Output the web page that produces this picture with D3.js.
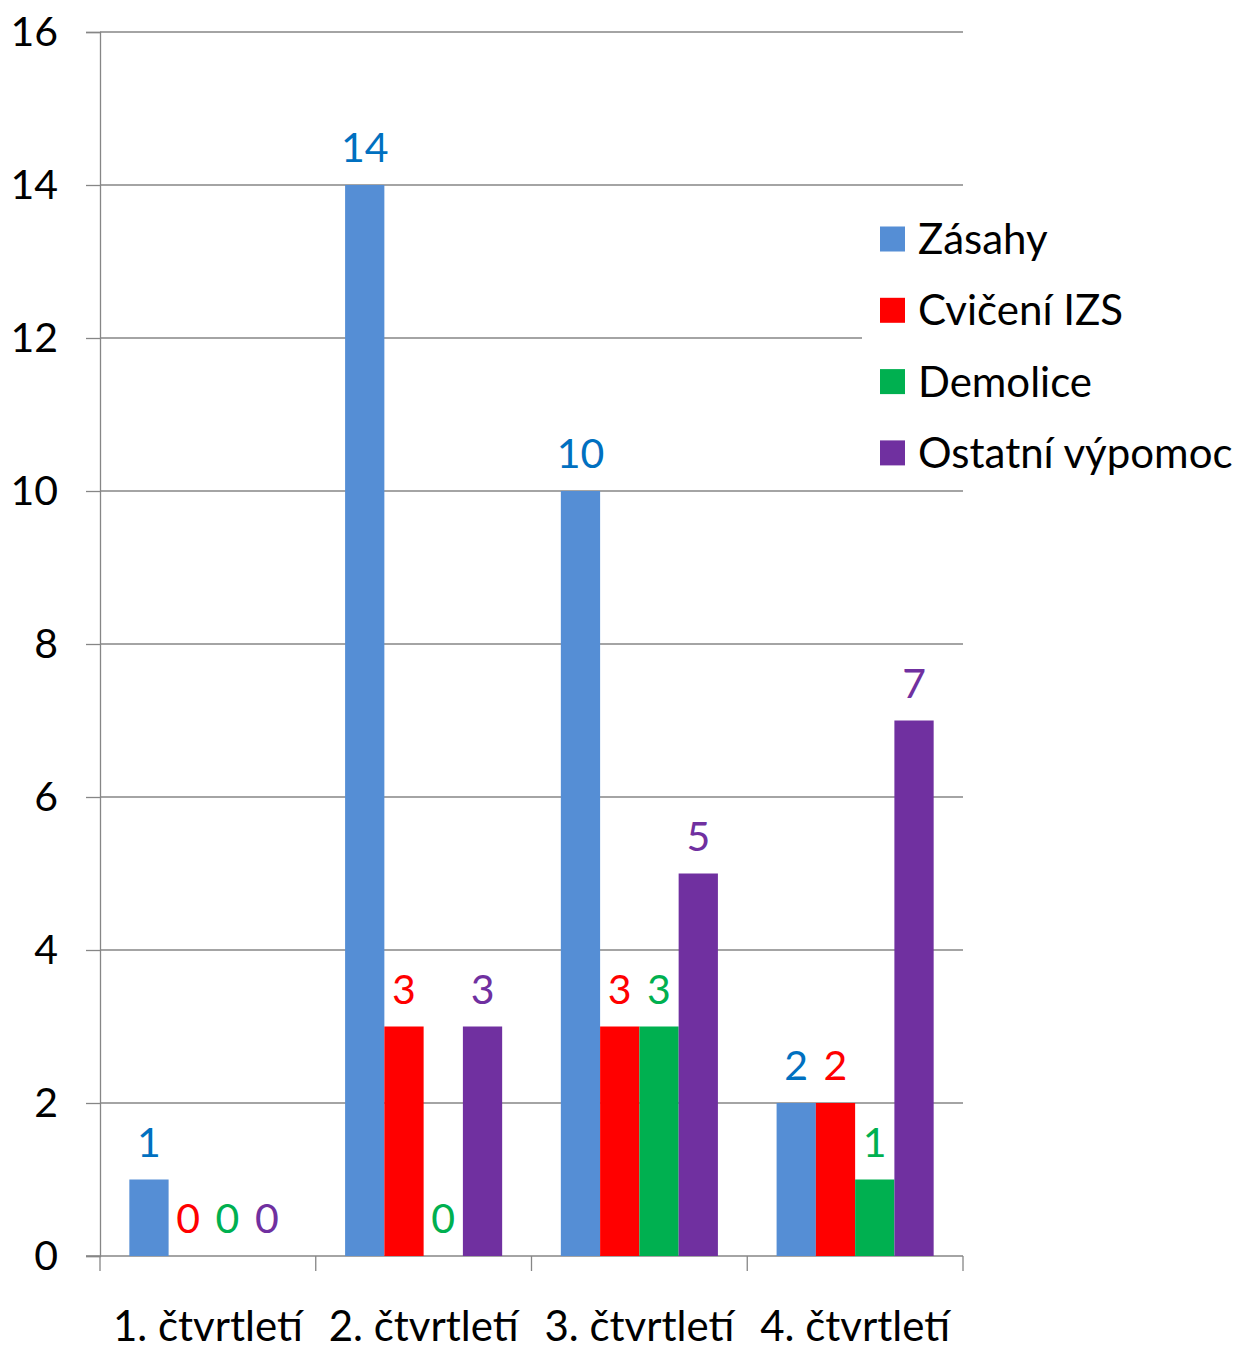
<!DOCTYPE html>
<html>
<head>
<meta charset="utf-8">
<script src="https://cdn.jsdelivr.net/npm/d3@7"></script>
<style>
body { margin: 0; background: #fff; }
svg text { font-family: Lato, "Open Sans", sans-serif; }
</style>
</head>
<body>
<svg id="chart"></svg>
<script>
// data
var quarters = ["1. čtvrtletí", "2. čtvrtletí", "3. čtvrtletí", "4. čtvrtletí"];
var seriesNames = ["Zásahy", "Cvičení IZS", "Demolice", "Ostatní výpomoc"];
var zasahy = [1, 14, 10, 2];
var cviceni = [0, 3, 3, 2];
var demolice = [0, 0, 3, 1];
var ostatni = [0, 3, 5, 7];
var yTicks = [0, 2, 4, 6, 8, 10, 12, 14, 16];

var barColors = ["#558ed5", "#ff0000", "#00b050", "#7030a0"];
var labelColors = ["#0070c0", "#ff0000", "#00b050", "#7030a0"];

var initChart = function(target)
{
    var screen = {width: 1241, height: 1349};
    var plot = {left: 100, right: 963, top: 32, bottom: 1256};

    var values = [zasahy, cviceni, demolice, ostatni];

    var svg = d3.select(target)
        .attr("width", screen.width)
        .attr("height", screen.height);

    var x0 = d3.scaleBand()
        .domain(quarters)
        .range([plot.left, plot.right]);

    var gap = x0.bandwidth() * 0.272;
    var x1 = d3.scaleBand()
        .domain(seriesNames)
        .range([gap / 2, x0.bandwidth() - gap / 2]);

    var y = d3.scaleLinear()
        .domain([0, 16])
        .range([plot.bottom, plot.top]);

    // gridlines
    svg.append("g")
        .selectAll("line")
        .data(yTicks.slice(1))
        .enter()
        .append("line")
        .attr("x1", plot.left)
        .attr("x2", plot.right)
        .attr("y1", function(d) { return y(d); })
        .attr("y2", function(d) { return y(d); })
        .attr("stroke", "#868686")
        .attr("stroke-width", 1.3);

    // y axis
    var yAxis = d3.axisLeft(y)
        .tickValues(yTicks)
        .tickSize(14)
        .tickPadding(28);
    var gy = svg.append("g")
        .attr("transform", "translate(" + plot.left + ",0)")
        .call(yAxis);
    gy.select(".domain").attr("stroke", "#868686").attr("stroke-width", 1.3);
    gy.selectAll(".tick line").attr("stroke", "#868686").attr("stroke-width", 1.3);
    gy.selectAll("text")
        .attr("font-size", 41)
        .attr("fill", "#000")
        .style("font-family", "Lato, sans-serif");

    // x axis (ticks at category boundaries)
    var gx = svg.append("g")
        .attr("transform", "translate(0," + plot.bottom + ")");
    gx.append("line")
        .attr("x1", plot.left - 14)
        .attr("x2", plot.right)
        .attr("stroke", "#868686")
        .attr("stroke-width", 1.3);
    var bounds = quarters.map(function(q) { return x0(q); }).concat([plot.right]);
    gx.selectAll(".bnd")
        .data(bounds)
        .enter()
        .append("line")
        .attr("class", "bnd")
        .attr("x1", function(d) { return d; })
        .attr("x2", function(d) { return d; })
        .attr("y1", 0)
        .attr("y2", 15)
        .attr("stroke", "#868686")
        .attr("stroke-width", 1.3);
    gx.selectAll(".cat")
        .data(quarters)
        .enter()
        .append("text")
        .attr("class", "cat")
        .attr("x", function(d) { return x0(d) + x0.bandwidth() / 2; })
        .attr("y", 85)
        .attr("text-anchor", "middle")
        .attr("font-size", 42)
        .attr("fill", "#000")
        .text(function(d) { return d; });

    // bars
    var groups = svg.append("g")
        .selectAll("g")
        .data(quarters)
        .enter()
        .append("g")
        .attr("transform", function(q) { return "translate(" + x0(q) + ",0)"; });

    var cells = groups.selectAll("g")
        .data(function(q, qi)
        {
            return seriesNames.map(function(s, si)
            {
                return {series: s, si: si, value: values[si][qi]};
            });
        })
        .enter()
        .append("g");

    cells.append("rect")
        .attr("x", function(d) { return x1(d.series); })
        .attr("width", x1.bandwidth())
        .attr("y", function(d) { return y(d.value); })
        .attr("height", function(d) { return y(0) - y(d.value); })
        .attr("fill", function(d) { return barColors[d.si]; });

    cells.append("text")
        .attr("x", function(d) { return x1(d.series) + x1.bandwidth() / 2; })
        .attr("y", function(d) { return y(d.value) - 23; })
        .attr("text-anchor", "middle")
        .attr("font-size", 41)
        .attr("fill", function(d) { return labelColors[d.si]; })
        .text(function(d) { return d.value; });

    // legend
    var legend = svg.append("g");
    legend.append("rect")
        .attr("x", 862)
        .attr("y", 205)
        .attr("width", 379)
        .attr("height", 275)
        .attr("fill", "#fff");
    var items = legend.selectAll(".item")
        .data(seriesNames)
        .enter()
        .append("g")
        .attr("class", "item")
        .attr("transform", function(d, i) { return "translate(880," + (239 + i * 71.3) + ")"; });
    items.append("rect")
        .attr("x", 0)
        .attr("y", -12.5)
        .attr("width", 25)
        .attr("height", 25)
        .attr("fill", function(d, i) { return barColors[i]; });
    items.append("text")
        .attr("x", 38)
        .attr("y", 15)
        .attr("font-size", 42)
        .attr("fill", "#000")
        .text(function(d) { return d; });
}

initChart("#chart");
</script>
</body>
</html>
